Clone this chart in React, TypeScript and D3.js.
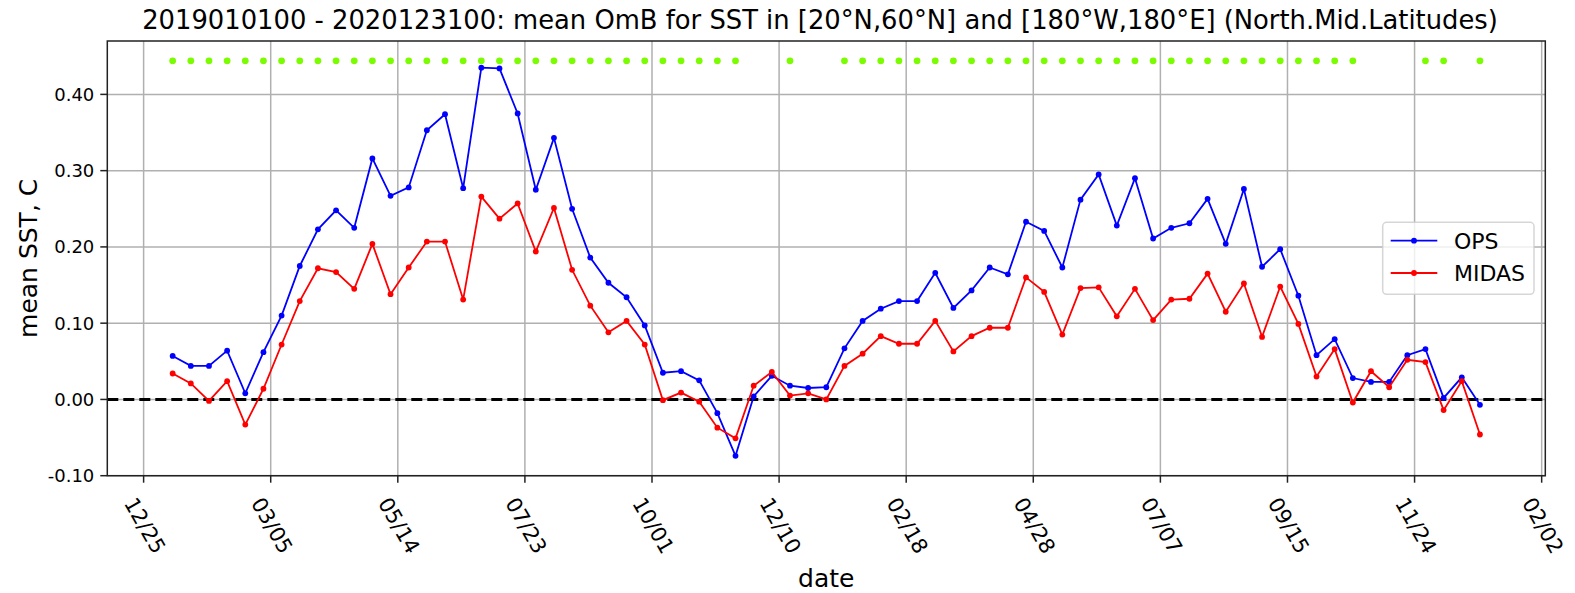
import React from "react";
import * as d3 from "d3";

const dates: string[] = [
  "2019-01-10","2019-01-20","2019-01-30","2019-02-09","2019-02-19","2019-03-01","2019-03-11","2019-03-21","2019-03-31",
  "2019-04-10","2019-04-20","2019-04-30","2019-05-10","2019-05-20","2019-05-30","2019-06-09","2019-06-19","2019-06-29",
  "2019-07-09","2019-07-19","2019-07-29","2019-08-08","2019-08-18","2019-08-28","2019-09-07","2019-09-17","2019-09-27",
  "2019-10-07","2019-10-17","2019-10-27","2019-11-06","2019-11-16","2019-11-26","2019-12-06","2019-12-16","2019-12-26",
  "2020-01-05","2020-01-15","2020-01-25","2020-02-04","2020-02-14","2020-02-24","2020-03-05","2020-03-15","2020-03-25",
  "2020-04-04","2020-04-14","2020-04-24","2020-05-04","2020-05-14","2020-05-24","2020-06-03","2020-06-13","2020-06-23",
  "2020-07-03","2020-07-13","2020-07-23","2020-08-02","2020-08-12","2020-08-22","2020-09-01","2020-09-11","2020-09-21",
  "2020-10-01","2020-10-11","2020-10-21","2020-10-31","2020-11-10","2020-11-20","2020-11-30","2020-12-10","2020-12-20",
  "2020-12-30"
];

const ops: number[] = [
  0.057, 0.044, 0.044, 0.064, 0.008, 0.062, 0.110, 0.175, 0.223, 0.248,
  0.225, 0.316, 0.267, 0.278, 0.353, 0.374, 0.277, 0.435, 0.434, 0.375,
  0.275, 0.343, 0.250, 0.186, 0.153, 0.134, 0.097, 0.035, 0.037, 0.025,
  -0.018, -0.074, 0.004, 0.031, 0.018, 0.015, 0.016, 0.067, 0.103, 0.119,
  0.129, 0.129, 0.166, 0.120, 0.143, 0.173, 0.164, 0.233, 0.221, 0.173,
  0.262, 0.295, 0.228, 0.290, 0.211, 0.225, 0.231, 0.263, 0.204, 0.276,
  0.174, 0.197, 0.136, 0.058, 0.079, 0.028, 0.023, 0.023, 0.058, 0.066,
  0.002, 0.029, -0.007
];

const midas: number[] = [
  0.034, 0.021, -0.002, 0.024, -0.033, 0.014, 0.072, 0.129, 0.172, 0.167,
  0.145, 0.204, 0.138, 0.173, 0.207, 0.207, 0.131, 0.266, 0.237, 0.257,
  0.194, 0.251, 0.170, 0.123, 0.088, 0.103, 0.072, -0.001, 0.009, -0.003,
  -0.037, -0.051, 0.018, 0.036, 0.005, 0.008, 0.000, 0.044, 0.060, 0.083,
  0.073, 0.073, 0.103, 0.063, 0.083, 0.094, 0.094, 0.160, 0.141, 0.085,
  0.146, 0.147, 0.109, 0.145, 0.104, 0.131, 0.132, 0.165, 0.115, 0.152,
  0.082, 0.148, 0.099, 0.030, 0.066, -0.004, 0.037, 0.016, 0.052, 0.049,
  -0.014, 0.024, -0.046
];

// indices of points flagged (green dots along the top)
const flagIdx: number[] = [
  0,1,2,3,4,5,6,7,8,9,10,11,12,13,14,15,16,17,18,19,20,21,22,23,24,25,26,27,28,29,30,31,
  34,
  37,38,39,40,41,42,43,44,45,46,47,48,49,50,51,52,53,54,55,56,57,58,59,60,61,62,63,64,65,
  69,70,72
];
const flagLevel = 0.444;

const xTickDates: string[] = [
  "2018-12-25","2019-03-05","2019-05-14","2019-07-23","2019-10-01","2019-12-10",
  "2020-02-18","2020-04-28","2020-07-07","2020-09-15","2020-11-24","2021-02-02"
];
const yTicks: number[] = [-0.1, 0.0, 0.1, 0.2, 0.3, 0.4];

const W = 1575, H = 593;
const L = 107.3, R = 1545.3, T = 41, B = 475.7;
const FONT = "'DejaVu Sans', sans-serif";

export default function App() {
  const parse = d3.utcParse("%Y-%m-%d");
  const xd = dates.map((s) => parse(s) as Date);
  const x = d3.scaleUtc().domain([parse("2018-12-05") as Date, parse("2021-02-04") as Date]).range([L, R]);
  const y = d3.scaleLinear().domain([-0.1, 0.47]).range([B, T]);
  const fmt = d3.utcFormat("%m/%d");

  const line = d3.line<number>().x((_, i) => x(xd[i])).y((v) => y(v));

  const series = [
    { name: "OPS", values: ops, color: "#0000ff" },
    { name: "MIDAS", values: midas, color: "#ff0000" },
  ];

  const legX = 1382.7, legY = 222.3, legW = 151.3, legH = 72;

  return (
    <svg width={W} height={H} style={{ position: "absolute", left: 0, top: 0, background: "#fff" }} fontFamily={FONT}>
      <rect x={0} y={0} width={W} height={H} fill="#fff" />
      <defs>
        <clipPath id="plot"><rect x={L} y={T} width={R - L} height={B - T} /></clipPath>
      </defs>
      {/* grid */}
      <g stroke="#b0b0b0" strokeWidth={1.5}>
        {xTickDates.map((d) => {
          const xx = x(parse(d) as Date);
          return <line key={d} x1={xx} x2={xx} y1={T} y2={B} />;
        })}
        {yTicks.map((v) => (
          <line key={v} x1={L} x2={R} y1={y(v)} y2={y(v)} />
        ))}
      </g>
      <g clipPath="url(#plot)">
        <line x1={L} x2={R} y1={y(0)} y2={y(0)} stroke="#000" strokeWidth={3} strokeDasharray="11,5" />
        {series.map((s) => (
          <g key={s.name}>
            <path d={line(s.values) || ""} fill="none" stroke={s.color} strokeWidth={1.8} />
            {s.values.map((v, i) => (
              <circle key={i} cx={x(xd[i])} cy={y(v)} r={2.9} fill={s.color} />
            ))}
          </g>
        ))}
        {flagIdx.map((i) => (
          <circle key={"f" + i} cx={x(xd[i])} cy={y(flagLevel)} r={3.4} fill="#7cfc00" />
        ))}
      </g>
      {/* spines */}
      <rect x={L} y={T} width={R - L} height={B - T} fill="none" stroke="#222" strokeWidth={1.5} />
      {/* x ticks */}
      <g>
        {xTickDates.map((d) => {
          const xx = x(parse(d) as Date);
          return (
            <g key={d}>
              <line x1={xx} x2={xx} y1={B} y2={B + 7} stroke="#222" strokeWidth={1.5} />
              <text
                transform={`translate(${xx + 1},${B + 50}) rotate(60)`}
                textAnchor="middle"
                dominantBaseline="central"
                fontSize={21}
                fill="#000"
              >
                {fmt(parse(d) as Date)}
              </text>
            </g>
          );
        })}
      </g>
      {/* y ticks */}
      <g>
        {yTicks.map((v) => (
          <g key={v}>
            <line x1={L - 7} x2={L} y1={y(v)} y2={y(v)} stroke="#222" strokeWidth={1.5} />
            <text x={L - 13} y={y(v)} textAnchor="end" dominantBaseline="central" fontSize={18} fill="#000">
              {v.toFixed(2)}
            </text>
          </g>
        ))}
      </g>
      {/* labels */}
      <text x={(L + R) / 2} y={587} textAnchor="middle" fontSize={25} fill="#000">date</text>
      <text transform={`translate(36.5,${(T + B) / 2}) rotate(-90)`} textAnchor="middle" fontSize={25} fill="#000">
        mean SST, C
      </text>
      <text x={820} y={28.5} textAnchor="middle" fontSize={25.8} fill="#000">
        2019010100 - 2020123100: mean OmB for SST in [20°N,60°N] and [180°W,180°E] (North.Mid.Latitudes)
      </text>
      {/* legend */}
      <g>
        <rect x={legX} y={legY} width={legW} height={legH} rx={4} ry={4} fill="#fff" fillOpacity={0.8} stroke="#cccccc" strokeOpacity={0.8} strokeWidth={1.5} />
        {series.map((s, i) => {
          const ly = legY + 18.4 + i * 32.3;
          return (
            <g key={s.name}>
              <line x1={1390.7} x2={1437.3} y1={ly} y2={ly} stroke={s.color} strokeWidth={1.8} />
              <circle cx={1414} cy={ly} r={2.9} fill={s.color} />
              <text x={1454} y={ly + 8} fontSize={22} fill="#000">{s.name}</text>
            </g>
          );
        })}
      </g>
    </svg>
  );
}
